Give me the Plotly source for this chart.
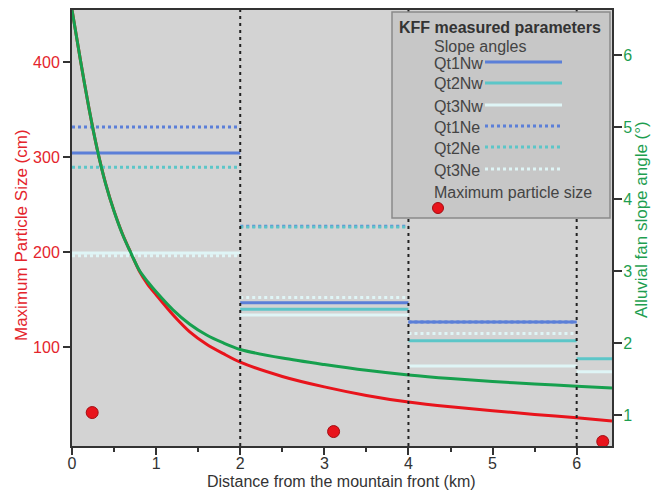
import plotly.graph_objects as go

# ---------------- data ----------------
# segment boundaries along the fan (km)
segment_edges = [0, 2, 4, 6, 6.42]

# slope angles (deg) per segment, right axis
qt1nw = [4.64, 2.56, 2.29, None]
qt2nw = [None, 2.47, 2.03, 1.78]
qt3nw = [3.25, 2.39, 1.68, 1.60]
qt1ne = [5.00, 3.62, 2.29, None]
qt2ne = [4.44, 3.61, None, None]
qt3ne = [3.21, 2.63, 2.13, None]

# fitted curves
curve_x = [0, 0.1, 0.2, 0.3, 0.4, 0.5, 0.6, 0.7, 0.8, 0.9, 1.0, 1.2, 1.4, 1.6, 1.8,
           2.0, 2.5, 3.0, 3.5, 4.0, 4.5, 5.0, 5.5, 6.0, 6.42]
particle_fit = [455, 402, 352, 308, 272, 243, 219, 199, 180, 166, 155, 134, 116, 103, 93,
                84, 69, 58, 49, 42, 37, 33, 29, 25.5, 22]
slope_fit = [6.625, 5.93, 5.27, 4.69, 4.21, 3.83, 3.51, 3.25, 3.01, 2.85, 2.71, 2.46, 2.26,
             2.11, 2.00, 1.91, 1.79, 1.70, 1.62, 1.555, 1.505, 1.465, 1.43, 1.40, 1.375]

# measured maximum particle size (cm)
dot_x = [0.24, 3.11, 6.31]
dot_size = [31, 11, 0.5]

series_names = ["Qt1Nw", "Qt2Nw", "Qt3Nw", "Qt1Ne", "Qt2Ne", "Qt3Ne"]
series_vals = [qt1nw, qt2nw, qt3nw, qt1ne, qt2ne, qt3ne]

# ---------------- styles ----------------
C1 = "#5b7fd8"
C2 = "#5cc6c8"
C3 = "#dff5f6"
series_colors = [C1, C2, C3, C1, C2, C3]
series_dash = ["solid", "solid", "solid", "3px,3px", "3px,3px", "3px,3px"]
RED = "#e8141c"
GREEN = "#16a04e"
FONT = "Liberation Sans, Arial, sans-serif"

# plot area in pixels
L, R, T, B = 72, 612, 10, 446
W, H = 655, 493


def px_x(px):
    return (px - L) / (R - L)


def px_y(py):
    return (B - py) / (B - T)


fig = go.Figure()

# slope angle segments
for name, vals, col, dash in zip(series_names, series_vals, series_colors, series_dash):
    for i, v in enumerate(vals):
        if v is None:
            continue
        fig.add_trace(go.Scatter(
            x=[segment_edges[i], segment_edges[i + 1]], y=[v, v],
            mode="lines", line=dict(color=col, width=3, dash=dash),
            yaxis="y2", showlegend=False, hoverinfo="skip", name=name))

# curves
fig.add_trace(go.Scatter(x=curve_x, y=particle_fit, mode="lines",
                         line=dict(color=RED, width=3, shape="spline", smoothing=0.8),
                         showlegend=False))
fig.add_trace(go.Scatter(x=curve_x, y=slope_fit, mode="lines",
                         line=dict(color=GREEN, width=3, shape="spline", smoothing=0.8),
                         yaxis="y2", showlegend=False))

# dots
fig.add_trace(go.Scatter(x=dot_x, y=dot_size, mode="markers",
                         marker=dict(color=RED, size=12,
                                     line=dict(color="#a30d12", width=1)),
                         showlegend=False, cliponaxis=False))

shapes = []
# vertical dotted separators
for xe in segment_edges[1:-1]:
    shapes.append(dict(type="line", xref="x", yref="paper", x0=xe, x1=xe, y0=0, y1=1,
                       line=dict(color="#222222", width=2, dash="3px,4px"), layer="above"))

# custom legend box
shapes.append(dict(type="rect", xref="paper", yref="paper",
                   x0=px_x(392), x1=px_x(610), y0=px_y(218), y1=px_y(12),
                   fillcolor="#c7c7c7", line=dict(color="#8a8a8a", width=1.5),
                   layer="above"))

annotations = []
annotations.append(dict(text="<b>KFF measured parameters</b>", xref="paper", yref="paper",
                        x=px_x(397), y=px_y(28), xanchor="left", yanchor="middle",
                        showarrow=False, font=dict(size=16, color="#333333", family=FONT)))
annotations.append(dict(text="Slope angles", xref="paper", yref="paper",
                        x=px_x(432), y=px_y(47), xanchor="left", yanchor="middle",
                        showarrow=False, font=dict(size=16, color="#444444", family=FONT)))
leg_y = [63, 84, 106, 127, 148, 170]
for name, col, dash, yy in zip(series_names, series_colors, series_dash, leg_y):
    annotations.append(dict(text=name, xref="paper", yref="paper",
                            x=px_x(432), y=px_y(yy), xanchor="left", yanchor="middle",
                            showarrow=False, font=dict(size=16, color="#444444", family=FONT)))
    shapes.append(dict(type="line", xref="paper", yref="paper",
                       x0=px_x(485), x1=px_x(562), y0=px_y(yy - 1), y1=px_y(yy - 1),
                       line=dict(color=col, width=3, dash=dash), layer="above"))
annotations.append(dict(text="Maximum particle size", xref="paper", yref="paper",
                        x=px_x(432), y=px_y(192), xanchor="left", yanchor="middle",
                        showarrow=False, font=dict(size=16, color="#444444", family=FONT)))
shapes.append(dict(type="circle", xref="paper", yref="paper",
                   x0=px_x(432.5), x1=px_x(443.5), y0=px_y(213.5), y1=px_y(202.5),
                   fillcolor=RED, line=dict(color="#a30d12", width=1), layer="above"))

# axis titles
annotations.append(dict(text="Distance from the mountain front (km)", xref="paper", yref="paper",
                        x=px_x(341), y=px_y(481), xanchor="center", yanchor="middle",
                        showarrow=False, font=dict(size=16, color="#333333", family=FONT)))
annotations.append(dict(text="Maximum Particle Size (cm)", xref="paper", yref="paper",
                        x=px_x(22), y=px_y(235), xanchor="center", yanchor="middle",
                        textangle=-90, showarrow=False,
                        font=dict(size=17, color="#e4242c", family=FONT)))
annotations.append(dict(text="Alluvial fan slope angle (°)", xref="paper", yref="paper",
                        x=px_x(641), y=px_y(220), xanchor="center", yanchor="middle",
                        textangle=-90, showarrow=False,
                        font=dict(size=17, color="#1e9e50", family=FONT)))

fig.update_layout(
    width=W, height=H,
    margin=dict(l=L, r=W - R, t=T, b=H - B),
    paper_bgcolor="white", plot_bgcolor="#d3d3d3",
    font=dict(family=FONT, size=16, color="#333333"),
    shapes=shapes, annotations=annotations,
    xaxis=dict(range=[0, 6.42], tickvals=[0, 1, 2, 3, 4, 5, 6],
               ticks="outside", ticklen=7, tickwidth=2, tickcolor="#333333",
               ticklabelstandoff=-5,
               minor=dict(dtick=0.5, ticks="outside", ticklen=4, tickwidth=2, tickcolor="#333333"),
               showline=True, linecolor="#333333", linewidth=2, mirror=True,
               showgrid=False, zeroline=False, automargin=False,
               tickfont=dict(size=16, color="#333333")),
    yaxis=dict(range=[-4.2, 454.7], tickvals=[100, 200, 300, 400],
               ticks="outside", ticklen=7, tickwidth=2, tickcolor="#333333",
               showline=True, linecolor="#333333", linewidth=2,
               showgrid=False, zeroline=False, automargin=False,
               tickfont=dict(size=16, color="#e4242c")),
    yaxis2=dict(range=[0.569, 6.625], tickvals=[1, 2, 3, 4, 5, 6],
                overlaying="y", side="right",
                ticks="outside", ticklen=8, tickwidth=2, tickcolor="#333333",
                ticklabelstandoff=-2,
                showline=True, linecolor="#333333", linewidth=2,
                showgrid=False, zeroline=False, automargin=False,
                tickfont=dict(size=16, color="#1e9e50")),
)

fig.write_html("out.html")
